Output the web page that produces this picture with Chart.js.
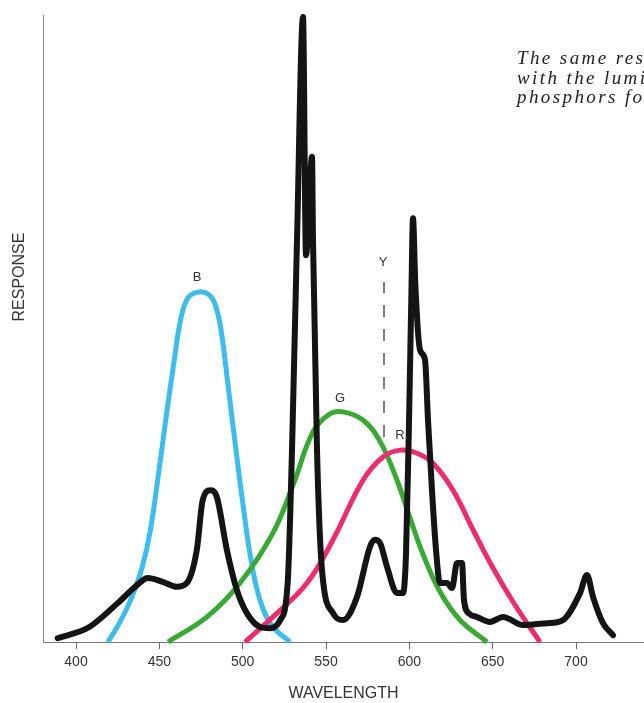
<!DOCTYPE html>
<html lang="en">
<head>
<meta charset="utf-8">
<title>Response curves</title>
<script src="https://cdn.jsdelivr.net/npm/chart.js@4.4.1/dist/chart.umd.min.js"></script>
<style>
  html, body { margin: 0; padding: 0; background: #fff; overflow: hidden; }
  #wrap { position: relative; width: 644px; height: 703px; overflow: hidden; }
  .chart-area { position: absolute; left: 0; top: 0; width: 644px; height: 703px; }
  /* caption cut off by the right edge, like the scan */
  .caption {
    position: absolute; left: 517px; top: 48px;
    white-space: nowrap;
    font-family: "Liberation Serif", "DejaVu Serif", serif;
    font-style: italic; font-size: 19px; line-height: 19.5px;
    letter-spacing: 2.4px; color: #222;
  }
</style>
</head>
<body>
<div id="wrap">
  <div class="chart-area">
    <canvas id="response-chart"></canvas>
  </div>
  <div class="caption">
    The same response curves<br>
    with the luminance of the<br>
    phosphors for a color set
  </div>
</div>

<script>
  // wavelength ticks
  const tickValues = [400, 450, 500, 550, 600, 650, 700];

  // phosphor emission (black)
  const blackWl = [389, 408, 425, 438, 443, 452, 460.5, 466.5, 472.5, 476, 480.5, 484.5, 490.5, 496.5, 502.5, 510.5, 516.5, 522.5, 527,
    529.6, 532.6, 536.2, 538, 541.6, 542.2, 544.6, 547.6, 554.2, 560.2, 568.6, 576.4, 579.4, 582.4, 586.6, 592.6, 596.2,
    598, 599.8, 601.2, 602.2, 603.6, 606.4, 609.4, 611.2, 613.6, 616, 618.4, 622.6, 625.6, 628.6, 631.6, 632.8, 636,
    640.6, 648.4, 656.2, 668.2, 682.6, 692.2, 702.4, 706.6, 710.2, 716.2, 722.2];
  const blackResp = [0.6, 2.4, 6.2, 9.4, 10.2, 9.6, 8.8, 9.4, 14.7, 22.6, 24.2, 23.1, 14.7, 8.3, 4.6, 2.4, 2.2, 3.5, 9.4,
    30.6, 64.1, 99.7, 61.7, 77.4, 64.1, 30.6, 11.5, 4.6, 3.5, 7.2, 15.2, 16.3, 15.8, 12.0, 7.8, 7.8,
    14, 35, 55, 67.6, 57, 46.6, 45, 35.4, 24.2, 14.7, 9.4, 9.4, 8.6, 12.6, 12.6, 6.7, 4.5,
    4.0, 3.2, 4.0, 2.7, 3.0, 3.5, 7.8, 10.7, 7.2, 3.0, 1.1];

  // B response (blue)
  const blueWl = [419.2, 426.4, 433.6, 439.6, 444.4, 449.2, 454, 458.8, 463, 467.2, 473.2, 479.2, 483.4, 487, 491.2, 496, 500.8, 505, 510.4, 517.6, 528.4];
  const blueResp = [0, 3.2, 7.2, 11.8, 17.5, 26.2, 35.7, 44.7, 51.7, 54.9, 55.8, 55.5, 53.9, 49.8, 41, 30.6, 20.7, 13.1, 6.7, 2.6, 0];

  // G response (green)
  const greenWl = [455.2, 478.6, 498.4, 518.2, 530.2, 542.2, 552.4, 560.2, 572.2, 582.4, 592.6, 600.4, 608.2, 618.4, 630.4, 646.6];
  const greenResp = [0, 4.0, 9.4, 17.4, 25.0, 33.5, 36.4, 36.7, 35.4, 32.0, 25.8, 19.8, 14.0, 8.0, 3.5, 0];

  // R response (red)
  const redWl = [501.4, 518.2, 538.6, 554.2, 572.2, 584.2, 594.4, 604.6, 614.2, 626.2, 638.2, 650.2, 663.4, 678.4];
  const redResp = [0, 4.0, 9.4, 16.3, 25.8, 29.5, 30.6, 30.1, 28.5, 24.2, 17.9, 11.8, 5.9, 0];

  // Y marker (dashed)
  const yMarkWl = [584.8, 584.8];
  const yMarkResp = [32.7, 57.4];

  // curve letters
  const labelText = ['B', 'G', 'R', 'Y'];
  const labelWl = [472.6, 558.4, 594.4, 584.2];
  const labelResp = [58.1, 38.9, 33.0, 60.6];

  const toPoints = (xs, ys) => xs.map((v, i) => ({ x: v, y: ys[i] }));

  const curveLabels = {
    id: 'curveLabels',
    afterDatasetsDraw(chart) {
      const { ctx, scales: { x, y } } = chart;
      ctx.save();
      ctx.fillStyle = '#333';
      ctx.textAlign = 'center';
      ctx.textBaseline = 'middle';
      ctx.font = '13px "Liberation Sans", Arial, sans-serif';
      labelText.forEach((t, i) => {
        ctx.fillText(t, x.getPixelForValue(labelWl[i]), y.getPixelForValue(labelResp[i]));
      });
      // y axis title sits above the middle in the scan
      ctx.font = '16px "Liberation Sans", Arial, sans-serif';
      ctx.translate(20, 277);
      ctx.rotate(-Math.PI / 2);
      ctx.fillText('RESPONSE', 0, 0);
      ctx.restore();
    }
  };

  const spikyLine = { pointRadius: 0, fill: false, cubicInterpolationMode: 'monotone', borderJoinStyle: 'round', borderCapStyle: 'round', clip: false };
  const smoothLine = { pointRadius: 0, fill: false, tension: 0.4, borderJoinStyle: 'round', borderCapStyle: 'butt', clip: false };

  const chartData = {
    datasets: [
      Object.assign({ label: 'phosphors', data: toPoints(blackWl, blackResp), borderColor: '#141414', borderWidth: 6 }, spikyLine),
      Object.assign({ label: 'Y', data: toPoints(yMarkWl, yMarkResp), borderColor: '#555', borderWidth: 1.5, borderDash: [12, 12], tension: 0 }, smoothLine),
      Object.assign({ label: 'R', data: toPoints(redWl, redResp), borderColor: '#ef2c6b', borderWidth: 5 }, smoothLine),
      Object.assign({ label: 'G', data: toPoints(greenWl, greenResp), borderColor: '#38a935', borderWidth: 5 }, smoothLine),
      Object.assign({ label: 'B', data: toPoints(blueWl, blueResp), borderColor: '#3dbcee', borderWidth: 5 }, smoothLine)
    ]
  };

  const config = {
    type: 'line',
    data: chartData,
    plugins: [curveLabels],
    options: {
      responsive: true,
      maintainAspectRatio: false,
      animation: false,
      layout: { padding: { top: 15, right: 0, bottom: 0, left: 0 } },
      plugins: {
        legend: { display: false },
        tooltip: { enabled: false },
        title: { display: false }
      },
      scales: {
        x: {
          type: 'linear',
          min: 380.2,
          max: 740.8,
          afterBuildTicks: (axis) => { axis.ticks = tickValues.map(v => ({ value: v })); },
          afterFit: (axis) => { axis.height = 61; },
          ticks: {
            color: '#333',
            padding: 5,
            maxRotation: 0,
            font: { family: '"Liberation Sans", Arial, sans-serif', size: 14 },
            callback: (v) => String(v)
          },
          grid: { display: true, drawOnChartArea: false, drawTicks: true, tickLength: 7, color: '#666' },
          border: { display: true, color: '#777', width: 1 },
          title: {
            display: true,
            text: 'WAVELENGTH',
            color: '#333',
            padding: { top: 0, bottom: 0 },
            font: { family: '"Liberation Sans", Arial, sans-serif', size: 16 }
          }
        },
        y: {
          type: 'linear',
          min: 0,
          max: 100,
          afterFit: (axis) => { axis.width = 43; },
          ticks: { display: false },
          grid: { display: false },
          border: { display: true, color: '#888', width: 1 },
          title: { display: false }
        }
      }
    }
  };

  window.onload = function () {
    const ctx = document.getElementById('response-chart').getContext('2d');
    window.chart1 = new Chart(ctx, config);
  };
</script>
</body>
</html>
